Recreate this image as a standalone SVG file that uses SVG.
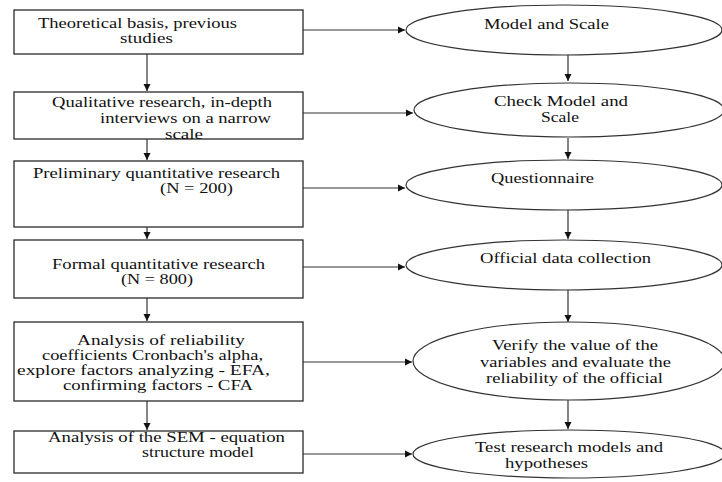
<svg xmlns="http://www.w3.org/2000/svg" width="722" height="482" viewBox="0 0 722 482">
<style>
.box{fill:#fff;stroke:#2a2a2a;stroke-width:1.3}
.ell{fill:#fff;stroke:#333;stroke-width:1.2}
.t{font-family:"Liberation Serif","Times New Roman",serif;font-size:14.5px;fill:#111}
.c{stroke:#333;stroke-width:1.2;fill:none}
</style>
<defs>
<marker id="ah" markerWidth="8" markerHeight="8" refX="7" refY="4" orient="auto" markerUnits="userSpaceOnUse">
<path d="M0,0.5 L7,4 L0,7.5 Z" fill="#111"/>
</marker>
</defs>
<rect width="722" height="482" fill="#fff"/>
<g id="connectors">
<line class="c" x1="147" y1="54" x2="147" y2="91" marker-end="url(#ah)"/>
<line class="c" x1="147" y1="139" x2="147" y2="160" marker-end="url(#ah)"/>
<line class="c" x1="147" y1="227" x2="147" y2="239" marker-end="url(#ah)"/>
<line class="c" x1="147" y1="298" x2="147" y2="321" marker-end="url(#ah)"/>
<line class="c" x1="147" y1="401" x2="147" y2="430" marker-end="url(#ah)"/>
<line class="c" x1="303" y1="30" x2="405" y2="30" marker-end="url(#ah)"/>
<line class="c" x1="303" y1="113" x2="413" y2="113" marker-end="url(#ah)"/>
<line class="c" x1="303" y1="188" x2="405" y2="188" marker-end="url(#ah)"/>
<line class="c" x1="303" y1="267" x2="405" y2="267" marker-end="url(#ah)"/>
<line class="c" x1="303" y1="362" x2="412" y2="362" marker-end="url(#ah)"/>
<line class="c" x1="303" y1="454" x2="412" y2="454" marker-end="url(#ah)"/>
<line class="c" x1="568" y1="55" x2="568" y2="81" marker-end="url(#ah)"/>
<line class="c" x1="568" y1="138" x2="568" y2="159" marker-end="url(#ah)"/>
<line class="c" x1="568" y1="210" x2="568" y2="239" marker-end="url(#ah)"/>
<line class="c" x1="568" y1="290" x2="568" y2="322" marker-end="url(#ah)"/>
<line class="c" x1="568" y1="400" x2="568" y2="429" marker-end="url(#ah)"/>
</g>
<g id="box1"><rect class="box" x="14" y="10" width="289" height="44"/>
<text class="t" x="38" y="28" textLength="199" lengthAdjust="spacingAndGlyphs">Theoretical basis, previous</text>
<text class="t" x="120" y="43" textLength="53" lengthAdjust="spacingAndGlyphs">studies</text></g>
<g id="box2"><rect class="box" x="14" y="92" width="289" height="47"/>
<text class="t" x="52" y="107" textLength="220" lengthAdjust="spacingAndGlyphs">Qualitative research, in-depth</text>
<text class="t" x="100" y="123" textLength="171" lengthAdjust="spacingAndGlyphs">interviews on a narrow</text>
<text class="t" x="165" y="139" textLength="38" lengthAdjust="spacingAndGlyphs">scale</text></g>
<g id="box3"><rect class="box" x="14" y="161" width="289" height="66"/>
<text class="t" x="33" y="178" textLength="247" lengthAdjust="spacingAndGlyphs">Preliminary quantitative research</text>
<text class="t" x="160" y="193" textLength="73" lengthAdjust="spacingAndGlyphs">(N = 200)</text></g>
<g id="box4"><rect class="box" x="14" y="240" width="289" height="58"/>
<text class="t" x="52" y="269" textLength="213" lengthAdjust="spacingAndGlyphs">Formal quantitative research</text>
<text class="t" x="121" y="284" textLength="72" lengthAdjust="spacingAndGlyphs">(N = 800)</text></g>
<g id="box5"><rect class="box" x="14" y="322" width="289" height="79"/>
<text class="t" x="77" y="345" textLength="168" lengthAdjust="spacingAndGlyphs">Analysis of reliability</text>
<text class="t" x="42" y="360" textLength="221" lengthAdjust="spacingAndGlyphs">coefficients Cronbach's alpha,</text>
<text class="t" x="17" y="375" textLength="253" lengthAdjust="spacingAndGlyphs">explore factors analyzing - EFA,</text>
<text class="t" x="63" y="390" textLength="190" lengthAdjust="spacingAndGlyphs">confirming factors - CFA</text></g>
<g id="box6"><rect class="box" x="14" y="431" width="289" height="42"/>
<text class="t" x="48" y="442" textLength="237" lengthAdjust="spacingAndGlyphs">Analysis of the SEM - equation</text>
<text class="t" x="142" y="457" textLength="112" lengthAdjust="spacingAndGlyphs">structure model</text></g>
<g id="ell1"><ellipse class="ell" cx="564" cy="30" rx="158" ry="25"/>
<text class="t" x="484" y="29" textLength="125" lengthAdjust="spacingAndGlyphs">Model and Scale</text></g>
<g id="ell2"><ellipse class="ell" cx="569" cy="110" rx="155" ry="27"/>
<text class="t" x="494" y="106" textLength="134" lengthAdjust="spacingAndGlyphs">Check Model and</text>
<text class="t" x="541" y="122" textLength="38" lengthAdjust="spacingAndGlyphs">Scale</text></g>
<g id="ell3"><ellipse class="ell" cx="564" cy="185" rx="158" ry="25"/>
<text class="t" x="491" y="183" textLength="103" lengthAdjust="spacingAndGlyphs">Questionnaire</text></g>
<g id="ell4"><ellipse class="ell" cx="564" cy="265" rx="158" ry="25"/>
<text class="t" x="480" y="263" textLength="171" lengthAdjust="spacingAndGlyphs">Official data collection</text></g>
<g id="ell5"><ellipse class="ell" cx="569" cy="361" rx="156" ry="39"/>
<text class="t" x="492" y="350" textLength="166" lengthAdjust="spacingAndGlyphs">Verify the value of the</text>
<text class="t" x="480" y="367" textLength="191" lengthAdjust="spacingAndGlyphs">variables and evaluate the</text>
<text class="t" x="486" y="383" textLength="177" lengthAdjust="spacingAndGlyphs">reliability of the official</text></g>
<g id="ell6"><ellipse class="ell" cx="569" cy="454" rx="156" ry="24"/>
<text class="t" x="475" y="452" textLength="188" lengthAdjust="spacingAndGlyphs">Test research models and</text>
<text class="t" x="505" y="468" textLength="83" lengthAdjust="spacingAndGlyphs">hypotheses</text></g>
</svg>
